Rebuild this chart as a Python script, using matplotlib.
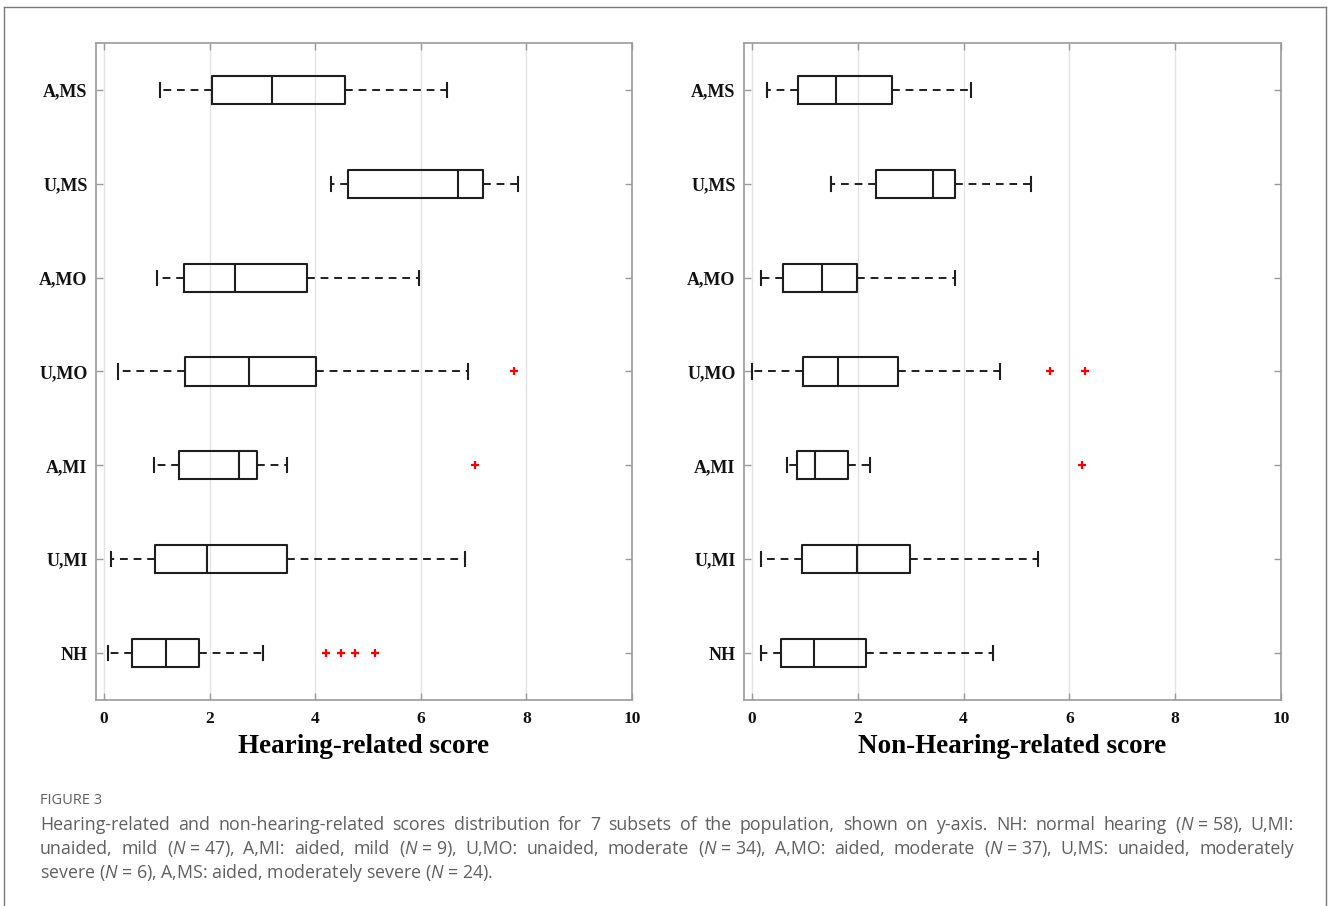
import matplotlib
matplotlib.use("Agg")
import matplotlib.pyplot as plt
from matplotlib.lines import Line2D

# ── Data ──────────────────────────────────────────────────────────────────────
groups = ["NH", "U,MI", "A,MI", "U,MO", "A,MO", "U,MS", "A,MS"]

hear_whislo = [0.07, 0.13, 0.94, 0.27, 1.01, 4.30, 1.07]
hear_q1 = [0.54, 0.96, 1.42, 1.54, 1.52, 4.63, 2.05]
hear_med = [1.17, 1.95, 2.55, 2.75, 2.48, 6.70, 3.18]
hear_q3 = [1.80, 3.47, 2.89, 4.02, 3.84, 7.17, 4.56]
hear_whishi = [3.02, 6.83, 3.47, 6.90, 5.96, 7.84, 6.49]
hear_fliers = [[4.20, 4.49, 4.75, 5.14], [], [7.03], [7.76], [], [], []]

nonhear_whislo = [0.18, 0.18, 0.66, 0.00, 0.18, 1.50, 0.29]
nonhear_q1 = [0.55, 0.95, 0.86, 0.96, 0.59, 2.35, 0.88]
nonhear_med = [1.18, 1.98, 1.20, 1.63, 1.32, 3.43, 1.59]
nonhear_q3 = [2.16, 2.99, 1.82, 2.77, 1.98, 3.84, 2.64]
nonhear_whishi = [4.56, 5.41, 2.23, 4.68, 3.84, 5.28, 4.14]
nonhear_fliers = [[], [], [6.24], [5.64, 6.29], [], [], []]

x_ticks = [0, 2, 4, 6, 8, 10]

# non-breaking spaces keep "(N = 58)" together when justifying
NB = "\u00a0"
caption_title = "FIGURE 3"
caption_lines = [
    "Hearing-related and non-hearing-related scores distribution for 7 subsets of the population, "
    f"shown on y-axis. NH: normal hearing ($N${NB}={NB}58), U,MI:",
    f"unaided, mild ($N${NB}={NB}47), A,MI: aided, mild ($N${NB}={NB}9), U,MO: unaided, moderate "
    f"($N${NB}={NB}34), A,MO: aided, moderate ($N${NB}={NB}37), U,MS: unaided, moderately",
    f"severe ($N${NB}={NB}6), A,MS: aided, moderately severe ($N${NB}={NB}24).",
]

# ── Styling ───────────────────────────────────────────────────────────────────
plt.rcParams.update({
    "mathtext.fontset": "custom",
    "mathtext.rm": "Open Sans",
    "mathtext.it": "Open Sans:italic",
})

SERIF = "Liberation Serif"
BOX_COLOR = "#1e1e1e"
FRAME_COLOR = "#9a9a9a"
GRID_COLOR = "#e3e3e3"
CAPTION_COLOR = "#5f5f5f"


def make_stats(lo, q1, med, q3, hi, fliers):
    return [
        {"whislo": a, "q1": b, "med": c, "q3": d, "whishi": e, "fliers": f}
        for a, b, c, d, e, f in zip(lo, q1, med, q3, hi, fliers)
    ]


def draw_panel(ax, stats, xlabel):
    ax.bxp(
        stats,
        positions=range(1, len(groups) + 1),
        orientation="horizontal",
        widths=0.3,
        capwidths=0.15,
        showfliers=True,
        boxprops=dict(color=BOX_COLOR, linewidth=1.5),
        medianprops=dict(color=BOX_COLOR, linewidth=1.5),
        whiskerprops=dict(color=BOX_COLOR, linewidth=1.4, linestyle=(0, (4, 3))),
        capprops=dict(color=BOX_COLOR, linewidth=1.5),
        flierprops=dict(marker="+", markeredgecolor="red", markersize=6,
                        markeredgewidth=1.6, linestyle="none"),
    )
    ax.set_xlim(-0.15, 10)
    ax.set_ylim(0.5, 7.5)
    ax.set_xticks(x_ticks)
    ax.set_xticklabels([str(t) for t in x_ticks], fontfamily=SERIF,
                       fontweight="bold", fontsize=12.5)
    ax.set_yticks(range(1, len(groups) + 1))
    ax.set_yticklabels(groups, fontfamily=SERIF, fontweight="bold", fontsize=13)
    ax.set_xlabel(xlabel, fontfamily=SERIF, fontweight="bold", fontsize=19.5,
                  labelpad=5)
    ax.xaxis.grid(True, color=GRID_COLOR, linewidth=1)
    ax.set_axisbelow(True)
    for s in ax.spines.values():
        s.set_color(FRAME_COLOR)
        s.set_linewidth(1.2)
    ax.tick_params(axis="both", which="both", direction="in", top=True,
                   right=True, color=FRAME_COLOR, length=5, width=1,
                   labelcolor="#111111")
    ax.tick_params(axis="x", pad=8)
    ax.tick_params(axis="y", pad=6)


fig = plt.figure(figsize=(13.28, 9.06), dpi=100)
W, H = 1328, 906

ax1 = fig.add_axes([96 / W, 1 - 700 / H, (632 - 96) / W, (700 - 43) / H])
ax2 = fig.add_axes([744 / W, 1 - 700 / H, (1281 - 744) / W, (700 - 43) / H])

draw_panel(ax1, make_stats(hear_whislo, hear_q1, hear_med, hear_q3,
                           hear_whishi, hear_fliers), "Hearing-related score")
draw_panel(ax2, make_stats(nonhear_whislo, nonhear_q1, nonhear_med, nonhear_q3,
                           nonhear_whishi, nonhear_fliers), "Non-Hearing-related score")

# outer frame (open at the bottom, as in the source page)
for xs, ys in [([4, 4], [906, 7]), ([4, 1326], [7, 7]), ([1326, 1326], [7, 906])]:
    fig.add_artist(Line2D([x / W for x in xs], [1 - y / H for y in ys],
                          color="#7a7a7a", linewidth=1.0))

# ── Caption ───────────────────────────────────────────────────────────────────
cap_kw = dict(fontfamily="Open Sans", fontsize=12.8, color=CAPTION_COLOR,
              va="center", ha="left")
fig.text(40 / W, 1 - 801 / H, caption_title, fontfamily="Open Sans",
         fontsize=10.5, color=CAPTION_COLOR, va="center", ha="left")

renderer = fig.canvas.get_renderer()
x_left, x_right = 40, 1294
line_y = [825, 849, 873]
for i, (line, yy) in enumerate(zip(caption_lines, line_y)):
    if i == len(caption_lines) - 1:
        fig.text(x_left / W, 1 - yy / H, line, **cap_kw)
        continue
    words = line.split(" ")
    widths = []
    for w in words:
        t = fig.text(0, 0, w, **cap_kw)
        widths.append(t.get_window_extent(renderer=renderer).width)
        t.remove()
    gap = ((x_right - x_left) - sum(widths)) / (len(words) - 1)
    x = x_left
    for w, wd in zip(words, widths):
        fig.text(x / W, 1 - yy / H, w, **cap_kw)
        x += wd + gap

fig.savefig("out.png", dpi=100)
